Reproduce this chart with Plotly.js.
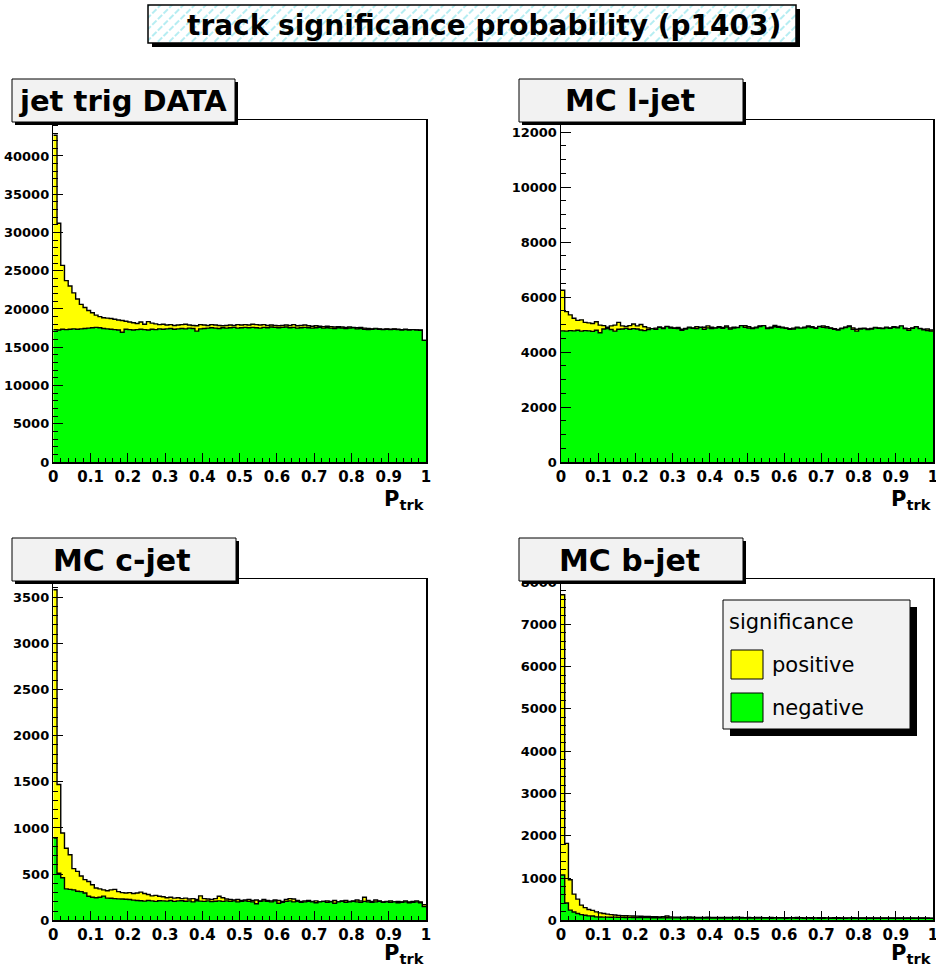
<!DOCTYPE html>
<html>
<head>
<meta charset="utf-8">
<script src="https://cdn.plot.ly/plotly-3.0.1.min.js"></script>
<style>html,body{margin:0;padding:0;background:#fff;}#chart{width:936px;height:970px;}</style>
</head>
<body>
<div id="chart"></div>
<script>
// ---------------- data ----------------
const nBins = 100;
const xMin = 0, xMax = 1;
const xTickLabels = ["0","0.1","0.2","0.3","0.4","0.5","0.6","0.7","0.8","0.9","1"];
const panelTitles = ["jet trig DATA", "MC l-jet", "MC c-jet", "MC b-jet"];
const seriesNames = ["positive", "negative"];
const legendTitle = "significance";
const mainTitle = "track significance probability (p1403)";
const xTitle = "P<sub>trk</sub>";

const dataPositive = [42700,31200,25700,23700,23000,22100,21300,20600,20200,19800,
19500,19200,19000,18850,18800,18750,18650,18550,18500,18400,
18300,18200,18100,18300,18000,18350,18150,18050,17950,18000,
17900,17950,17850,17900,17950,18000,17900,17850,17800,17950,
17900,17850,17950,17900,17850,17800,17850,17900,17850,17950,
17900,17950,17900,18000,17950,17900,17950,17850,17900,17850,
17800,17850,17900,17850,17950,17800,17850,17900,17800,17750,
17800,17750,17700,17750,17700,17650,17700,17650,17600,17650,
17600,17550,17600,17500,17450,17400,17450,17400,17350,17400,
17350,17400,17350,17300,17350,17300,17300,17250,17250,15900];
const dataNegative = [17300,17250,17350,17300,17350,17400,17350,17400,17450,17500,
17550,17600,17550,17450,17400,17350,17300,17250,16950,17350,
17300,17250,17300,17350,17300,17250,17350,17300,17400,17350,
17400,17450,17350,17400,17450,17400,17500,17450,17100,17400,
17450,17500,17550,17500,17450,17550,17500,17550,17600,17500,
17550,17600,17550,17600,17550,17500,17600,17550,17650,17600,
17550,17600,17650,17550,17600,17500,17550,17600,17550,17500,
17550,17600,17500,17550,17500,17450,17550,17500,17450,17500,
17550,17400,17450,17350,17300,17350,17400,17350,17300,17350,
17300,17350,17300,17250,17300,17250,17300,17250,17200,15900];

const lightPositive = [6250,5470,5350,5230,5150,5170,5080,5060,5040,5100,
4980,4960,4900,4950,4980,5080,4950,4930,4960,5020,
4950,5000,4920,4880,4850,4870,4900,4880,4920,4900,
4880,4890,4830,4860,4900,4880,4920,4870,4900,4950,
4900,4880,4920,4890,4950,4880,4900,4860,4930,4960,
4920,4880,4900,4950,4920,4880,4900,4970,4930,4900,
4880,4850,4870,4900,4860,4900,4950,4920,4880,4900,
4950,4920,4880,4850,4820,4870,4900,4950,4880,4830,
4860,4870,4840,4860,4890,4880,4870,4900,4880,4920,
4900,4930,4870,4850,4880,4900,4860,4830,4840,4800];
const lightNegative = [4770,4760,4780,4770,4790,4760,4780,4770,4750,4790,
4700,4840,4850,4820,4760,4830,4840,4860,4830,4850,
4840,4800,4780,4820,4850,4830,4900,4850,4930,4870,
4860,4850,4790,4840,4880,4860,4850,4900,4830,4880,
4850,4870,4890,4860,4910,4840,4870,4890,4960,4900,
4870,4850,4880,4930,4960,4850,4870,4920,4900,4880,
4860,4830,4840,4880,4870,4880,4920,4890,4860,4930,
4900,4880,4860,4830,4800,4850,4890,4930,4830,4760,
4840,4850,4820,4840,4880,4860,4850,4880,4860,4900,
4880,4950,4850,4790,4860,4920,4850,4810,4780,4760];

const charmPositive = [3580,1470,945,780,710,560,530,480,440,420,
385,350,340,330,320,330,335,310,300,295,
300,290,295,305,290,280,265,270,260,255,
245,250,240,245,235,240,230,235,225,265,
235,230,225,235,260,245,230,225,220,225,
215,220,225,215,220,210,225,215,210,220,
215,205,225,235,230,215,205,210,215,205,
210,200,205,210,205,215,200,210,215,205,
210,220,210,250,215,205,220,210,200,205,
210,200,205,200,210,200,205,210,200,170];
const charmNegative = [890,510,460,340,335,330,315,310,295,260,
250,245,250,262,240,238,235,232,230,228,
225,218,215,212,208,215,210,205,212,210,
208,215,205,210,212,206,210,200,212,208,
205,210,202,206,210,205,210,205,210,200,
205,210,205,200,180,205,210,205,200,210,
185,195,205,210,200,205,195,200,205,200,
190,200,205,195,200,185,200,205,195,200,
205,200,195,205,200,195,200,205,195,200,
195,200,190,195,200,190,195,200,190,150];

const bottomPositive = [7700,1820,960,620,500,360,300,255,235,200,
175,160,145,135,125,115,110,108,105,100,
98,95,92,90,88,85,82,85,100,80,
75,72,70,75,78,72,70,68,70,72,
68,66,68,70,66,65,68,72,66,64,
65,63,66,70,64,62,65,63,60,62,
64,60,62,65,60,58,62,60,58,60,
62,58,57,60,62,58,56,58,60,57,
55,58,56,54,57,55,58,56,54,55,
57,55,53,55,54,56,53,55,54,52];
const bottomNegative = [1070,410,240,195,160,135,118,105,100,82,
78,75,76,72,74,70,72,68,70,66,
68,64,65,63,62,60,62,58,60,58,
57,58,56,57,55,56,54,55,56,54,
55,53,55,54,52,54,53,55,52,53,
54,52,53,51,53,52,50,52,51,53,
50,52,51,50,52,49,51,50,52,49,
50,51,49,50,48,50,49,51,48,50,
49,47,49,48,50,48,47,49,48,47,
49,48,46,48,47,46,48,47,46,45];

const yMaxima = [44700, 12440, 3696, 8073];
const yMajor = [5000, 2000, 500, 1000];
const yMinor = [1000, 500, 100, 200];

// ---------------- geometry helpers ----------------
const W = 936, H = 970;
const px = x => x / W;
const py = y => 1 - y / H;
const FONT = "DejaVu Sans";
const yellow = "#ffff00", green = "#00ff00";

const binWidth = (xMax - xMin) / nBins;
const edges = [];
for (let i = 0; i <= nBins; i++) edges.push(+(xMin + i * binWidth).toFixed(4));

function stepTrace(vals, color, name, k) {
  const s = k === 1 ? "" : String(k);
  return {
    type: "scatter", mode: "lines", name: name,
    x: edges, y: vals.concat([vals[vals.length - 1]]),
    line: {shape: "hv", color: "#000", width: 1.4},
    fill: "tozeroy", fillcolor: color,
    xaxis: "x" + s, yaxis: "y" + s, showlegend: false, hoverinfo: "skip"
  };
}

const traces = [
  stepTrace(dataPositive, yellow, seriesNames[0], 1),
  stepTrace(dataNegative, green, seriesNames[1], 1),
  stepTrace(lightPositive, yellow, seriesNames[0], 2),
  stepTrace(lightNegative, green, seriesNames[1], 2),
  stepTrace(charmPositive, yellow, seriesNames[0], 3),
  stepTrace(charmNegative, green, seriesNames[1], 3),
  stepTrace(bottomPositive, yellow, seriesNames[0], 4),
  stepTrace(bottomNegative, green, seriesNames[1], 4)
];

// pixel frames for the four pads
const frames = [
  {x0: 53.3, x1: 426, y0: 120, y1: 462},
  {x0: 561, x1: 933, y0: 120, y1: 462},
  {x0: 53.3, x1: 426, y0: 579, y1: 920.3},
  {x0: 561, x1: 933, y0: 579, y1: 920.3}
];
const xTitleY = [500, 500, 954, 954];

const layout = {
  width: W, height: H,
  margin: {l: 0, r: 0, t: 0, b: 0, pad: 0},
  paper_bgcolor: "#fff", plot_bgcolor: "#fff",
  showlegend: false,
  font: {family: FONT, color: "#000"},
  shapes: [], annotations: [], images: []
};

frames.forEach((f, i) => {
  const s = i === 0 ? "" : String(i + 1);
  layout["xaxis" + s] = {
    domain: [px(f.x0), px(f.x1)], anchor: "y" + s, range: [xMin, xMax],
    tickmode: "array", tickvals: xTickLabels.map(Number), ticktext: xTickLabels,
    ticks: "inside", ticklen: 9, tickwidth: 1, tickcolor: "#000",
    minor: {ticks: "inside", ticklen: 4.5, tickwidth: 1, tickcolor: "#000", tick0: 0, dtick: 0.02, showgrid: false},
    showline: true, linewidth: 1.5, linecolor: "#000", mirror: true,
    showgrid: false, zeroline: false, fixedrange: true,
    ticklabeloverflow: "allow",
    tickfont: {family: FONT, size: 15, weight: 700, color: "#000"}
  };
  layout["yaxis" + s] = {
    domain: [py(f.y1), py(f.y0)], anchor: "x" + s, range: [0, yMaxima[i]],
    tickmode: "linear", tick0: 0, dtick: yMajor[i], tickformat: "d",
    ticks: "inside", ticklen: 10, tickwidth: 1, tickcolor: "#000",
    minor: {ticks: "inside", ticklen: 5, tickwidth: 1, tickcolor: "#000", tick0: 0, dtick: yMinor[i], showgrid: false},
    showline: true, linewidth: 1.5, linecolor: "#000", mirror: true,
    showgrid: false, zeroline: false, fixedrange: true,
    ticklabeloverflow: "allow",
    tickfont: {family: FONT, size: 13, weight: 700, color: "#000"}
  };
  // x-axis title
  layout.annotations.push({
    xref: "paper", yref: "paper", x: px(f.x1 + 1), y: py(xTitleY[i]),
    xanchor: "right", yanchor: "middle", showarrow: false,
    text: xTitle, font: {family: FONT, size: 21, weight: 700, color: "#000"}
  });
});

function rectPx(x0, y0, x1, y1, fill, lineW) {
  return {type: "rect", xref: "paper", yref: "paper", layer: "above",
    x0: px(x0), x1: px(x1), y0: py(y1), y1: py(y0),
    fillcolor: fill, line: {color: "#000", width: lineW}};
}
function boxWithShadow(x0, y0, x1, y1, fill, d) {
  layout.shapes.push(rectPx(x1, y0 + d, x1 + d, y1 + d, "#000", 0));
  layout.shapes.push(rectPx(x0 + d, y1, x1 + d, y1 + d, "#000", 0));
  layout.shapes.push(rectPx(x0, y0, x1, y1, fill, 1));
}

// main title box with hatch
const tb = {x0: 148, y0: 5, x1: 796, y1: 43};
const hatchSvg = "<svg xmlns='http://www.w3.org/2000/svg' width='648' height='38'>" +
  "<defs><pattern id='h' width='8' height='8' patternUnits='userSpaceOnUse' patternTransform='rotate(45)'>" +
  "<line x1='1' y1='0' x2='1' y2='8' stroke='#6cdbe5' stroke-width='1' stroke-dasharray='3,2'/></pattern></defs>" +
  "<rect width='648' height='38' fill='#ffffff'/><rect width='648' height='38' fill='url(#h)'/></svg>";
layout.images.push({
  source: "data:image/svg+xml;charset=utf-8," + encodeURIComponent(hatchSvg),
  xref: "paper", yref: "paper", x: px(tb.x0), y: py(tb.y0),
  sizex: (tb.x1 - tb.x0) / W, sizey: (tb.y1 - tb.y0) / H,
  xanchor: "left", yanchor: "top", sizing: "stretch", layer: "above"
});
layout.shapes.push(rectPx(tb.x1, tb.y0 + 4, tb.x1 + 4, tb.y1 + 4, "#000", 0));
layout.shapes.push(rectPx(tb.x0 + 4, tb.y1, tb.x1 + 4, tb.y1 + 4, "#000", 0));
layout.shapes.push(rectPx(tb.x0, tb.y0, tb.x1, tb.y1, "rgba(0,0,0,0)", 1.5));
layout.annotations.push({
  xref: "paper", yref: "paper", x: px(484), y: py(25), xanchor: "center", yanchor: "middle",
  showarrow: false, text: mainTitle, font: {family: FONT, size: 28, weight: 700, color: "#000"}
});

// pad title boxes
const titleBoxes = [
  {x0: 12, y0: 79, x1: 235, y1: 122, cx: 123, cy: 101, size: 29},
  {x0: 519, y0: 79, x1: 743, y1: 122, cx: 630, cy: 101, size: 30},
  {x0: 12, y0: 538, x1: 236, y1: 581, cx: 122, cy: 560, size: 30},
  {x0: 519, y0: 538, x1: 743, y1: 581, cx: 629, cy: 560, size: 30}
];
titleBoxes.forEach((b, i) => {
  boxWithShadow(b.x0, b.y0, b.x1, b.y1, "#f2f2f2", 3);
  layout.annotations.push({
    xref: "paper", yref: "paper", x: px(b.cx), y: py(b.cy), xanchor: "center", yanchor: "middle",
    showarrow: false, text: panelTitles[i], font: {family: FONT, size: b.size, weight: 700, color: "#000"}
  });
});

// legend
boxWithShadow(723, 600, 910, 729, "#f2f2f2", 7);
layout.shapes.push(rectPx(731, 650, 763, 679, yellow, 1));
layout.shapes.push(rectPx(731, 693, 763, 722, green, 1));
layout.annotations.push({xref: "paper", yref: "paper", x: px(727), y: py(622), xanchor: "left", yanchor: "middle",
  showarrow: false, text: legendTitle, font: {family: FONT, size: 21, color: "#000"}});
layout.annotations.push({xref: "paper", yref: "paper", x: px(770), y: py(665), xanchor: "left", yanchor: "middle",
  showarrow: false, text: seriesNames[0], font: {family: FONT, size: 21, color: "#000"}});
layout.annotations.push({xref: "paper", yref: "paper", x: px(770), y: py(708), xanchor: "left", yanchor: "middle",
  showarrow: false, text: seriesNames[1], font: {family: FONT, size: 21, color: "#000"}});

Plotly.newPlot("chart", traces, layout, {staticPlot: true, displayModeBar: false});
</script>
</body>
</html>
